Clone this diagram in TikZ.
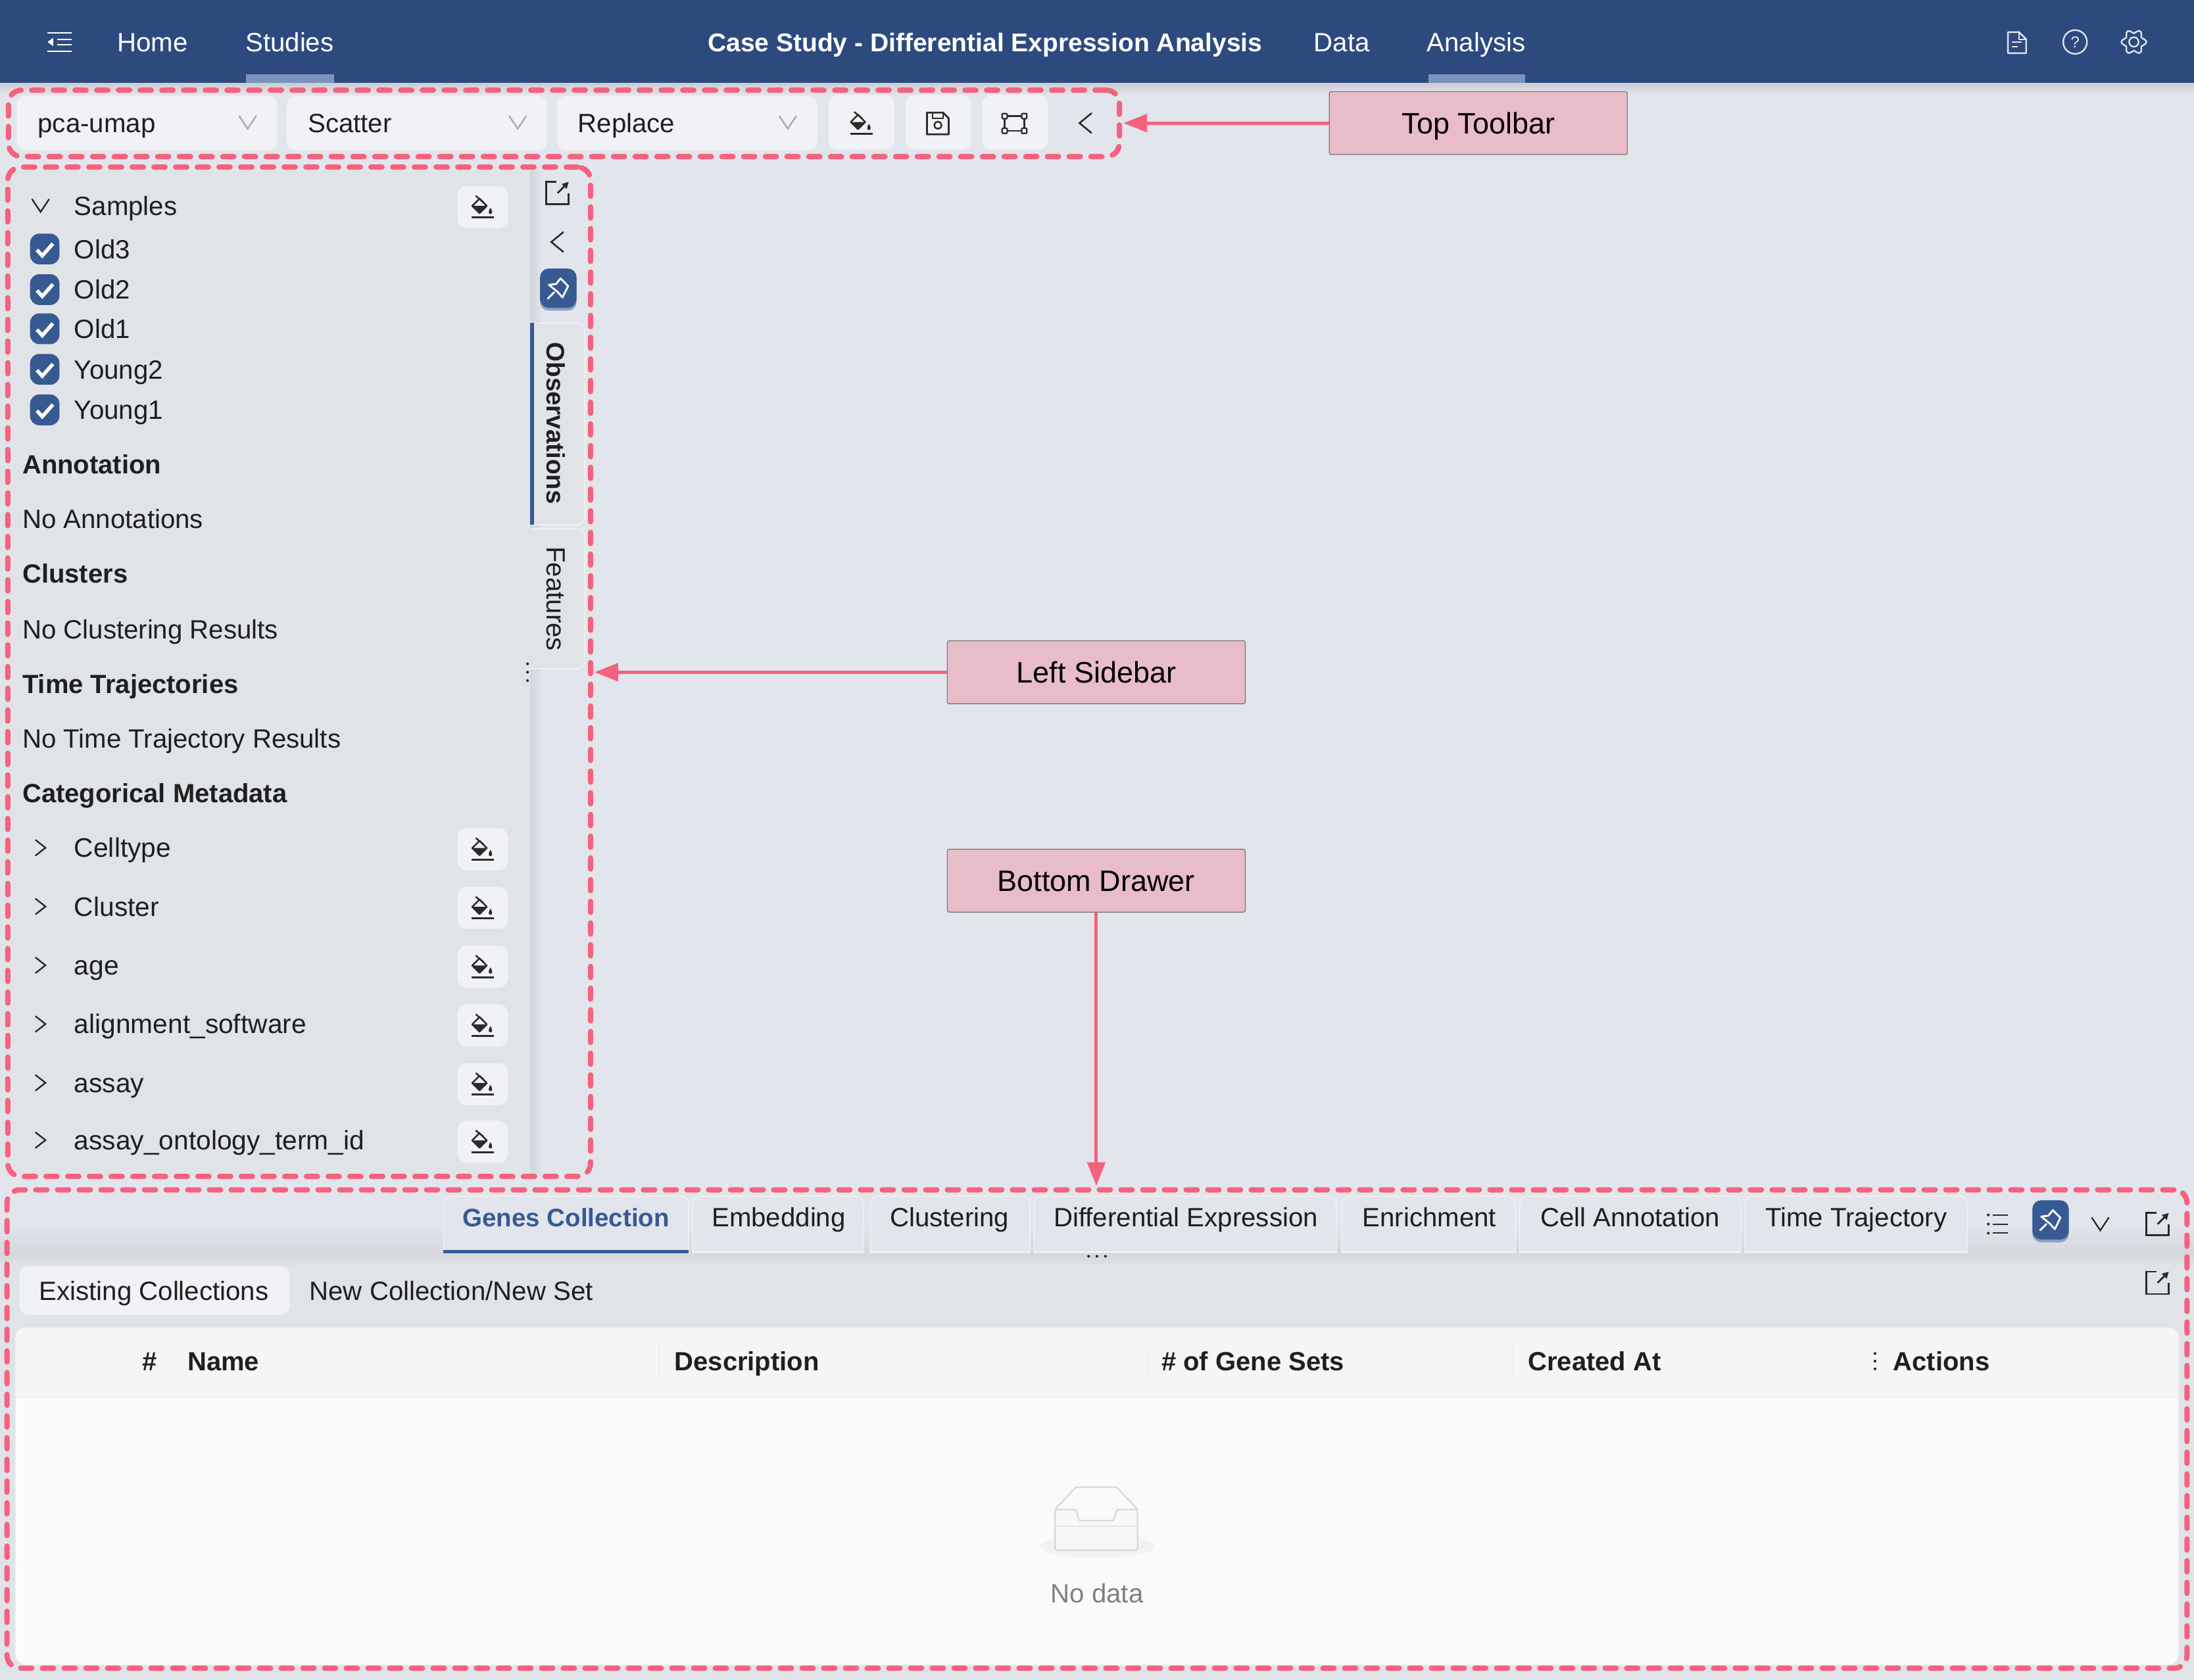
\documentclass[tikz,border=0pt]{standalone}
\usepackage{fontspec}
\setmainfont{Liberation Sans}
\usetikzlibrary{arrows.meta, calc}

\definecolor{headblue}{HTML}{2D4A7F}
\definecolor{barblue}{HTML}{7893BE}
\definecolor{pinblue}{HTML}{375A93}
\definecolor{pagegrey}{HTML}{E2E5EC}
\definecolor{panelgrey}{HTML}{E0E3E8}
\definecolor{boxgrey}{HTML}{F0F2F5}
\definecolor{bodygrey}{HTML}{F9FAFC}
\definecolor{framepink}{HTML}{F4627F}
\definecolor{labelpink}{HTML}{E8BCC8}
\definecolor{iconline}{HTML}{2B2B2B}

\tikzset{
	uitext/.style = {inner sep = 0pt, text height = 29pt, text depth = 0pt, font = \fontsize{40.2}{48}\selectfont, text = black!88},
	boldtext/.style = {uitext, font = \fontsize{40}{48}\selectfont\bfseries},
	headtext/.style = {uitext, text = white},
	dropbox/.style = {draw = black!6, fill = boxgrey, rounded corners = 14pt},
	framebox/.style = {draw = framepink, line width = 8pt, rounded corners = 20pt, dash pattern = on 17pt off 16pt, line cap = round, inner sep = 0pt, outer sep = 0pt},
	calllabel/.style = {draw = black!55, line width = 1.2pt, fill = labelpink, rounded corners = 3pt, minimum width = 213*2.1276pt, minimum height = 45*2.1276pt, inner sep = 0pt, text height = 32pt, text depth = 0pt, font = \fontsize{45}{52}\selectfont, text = black},
	callarrow/.style = {draw = framepink, line width = 5pt, -{Triangle[length = 36pt, width = 27pt]}, shorten > = 6pt},
	pics/bucket/.style = {code = {
		\draw [line width = 2.5pt, iconline, line join = round] (-7.5,-0.8) -- (-2.3,4.4) -- (2.9,-0.8) -- (-2.3,-6) -- cycle;
		\fill [iconline] (-7.5,-0.8) -- (-2.3,4.4) -- (2.9,-0.8) -- cycle;
		\draw [line width = 2.5pt, iconline] (-5,-8) -- (0.5,-3.5);
		\fill [iconline] (5.5,0.5) .. controls (4,2.5) and (3.8,5) .. (5.5,5) .. controls (7.2,5) and (7,2.5) .. (5.5,0.5) -- cycle;
		\draw [line width = 3pt, iconline] (-8,7.5) -- (8,7.5);
	}},
	pics/pinhead/.style = {code = {
		\draw [white, line width = 2.8pt, line join = round, line cap = round] (1.6,-7) -- (7,-1.5) -- (3,6.6) -- (-0.8,2.4) -- (-6.7,-2.4) -- (-1.6,-3) -- cycle;
		\draw [white, line width = 2.8pt, line cap = round] (-3,3) -- (-7.4,7.4);
	}},
	pics/openbox/.style = {code = {
		\draw [iconline, line width = 2.8pt] (-1,-8) -- (-8,-8) -- (-8,8) -- (8,8) -- (8,0);
		\draw [iconline, line width = 2.8pt, -{Triangle[length = 10pt, width = 10pt]}] (0,0) -- (8,-8);
	}},
	pics/chevleft/.style = {code = {
		\draw [iconline, line width = 2.6pt, line cap = round] (4,-7) -- (-4.5,0) -- (4,7);
	}},
	pics/chevright/.style = {code = {
		\draw [iconline, line width = 2.4pt, line cap = round] (-3.5,-5.5) -- (3.5,0) -- (-3.5,5.5);
	}},
	pics/chevdown/.style = {code = {
		\draw [line width = 2.4pt, line cap = round] (-6,-4.5) -- (0,4.5) -- (6,-4.5);
	}},
}

\newcommand{\pinbutton}[1]{
	\fill [pinblue!50!panelgrey, rounded corners = 13pt] ($ (#1) + (-13,-13) $) rectangle ($ (#1) + (13,16) $);
	\fill [pinblue, rounded corners = 13pt] ($ (#1) + (-13,-14) $) rectangle ($ (#1) + (13,14) $);
	\pic at (#1) {pinhead};
}

\begin{document}
\begin{tikzpicture}[x = 2.1276pt, y = -2.1276pt]
	\useasboundingbox (0,0) rectangle (1568,1200.9);
	
	\fill [pagegrey] (0,0) rectangle (1568,1200.9);
	
	% header
	\begin{scope}
		\shade [top color = black!11!pagegrey, bottom color = pagegrey] (0,59) rectangle (1568,68);
		\fill [headblue] (0,0) rectangle (1568,59);
		\fill [barblue] (176,53) rectangle (239,59);
		\fill [barblue] (1021,53) rectangle (1090,59);
		
		\draw [white, line width = 2pt] (34,23.5) -- (51,23.5) (41,28) -- (51,28) (41,32) -- (51,32) (34,36.5) -- (51,36.5);
		\fill [white] (34,30) -- (38,27) -- (38,33) -- cycle;
		
		\node (home) [headtext] at (109,30) {Home};
		\node (studies) [headtext] at (207,30) {Studies};
		\node (casetitle) [headtext, font = \fontsize{39}{48}\selectfont\bfseries] at (704,30) {Case Study - Differential Expression Analysis};
		\node (data) [headtext] at (959,30) {Data};
		\node (analysis) [headtext] at (1055,30) {Analysis};
		
		\draw [white!85!headblue, line width = 2.4pt, line join = round] (1435,23) -- (1443,23) -- (1448,28) -- (1448,38) -- (1435,38) -- cycle;
		\draw [white!85!headblue, line width = 2pt] (1443,23) -- (1443,28) -- (1448,28) (1438,30) -- (1445,30) (1438,33.5) -- (1442,33.5);
		\node (helpmark) [inner sep = 0pt, draw = white!85!headblue, line width = 2.4pt, circle, minimum size = 17*2.1276pt, text = white!85!headblue, font = \fontsize{24}{24}\selectfont] at (1483,30) {?};
		\draw [white!85!headblue, line width = 2.4pt] plot [smooth cycle, samples = 48, domain = 0:352.5] ({1525+(7.6+1.3*cos(6*\x))*cos(\x)},{30+(7.6+1.3*cos(6*\x))*sin(\x)});
		\draw [white!85!headblue, line width = 2.4pt] (1525,30) circle (3.4);
	\end{scope}
	
	% toolbar
	\begin{scope}
		\foreach \i/\xa/\xb/\t in {1/12/198/pca-umap, 2/205/391/Scatter, 3/398/584/Replace}{
			\draw [dropbox] (\xa,68.5) rectangle (\xb,107.5);
			\node (drop\i) [uitext, anchor = west] at (\xa+15,88) {\t};
			\pic [draw = black!33] at (\xb-21,87.5) {chevdown};
		}
		\foreach \xa in {592,647,702}{
			\draw [dropbox] (\xa,68) rectangle (\xa+47,107);
		}
		\pic at (615.5,88) {bucket};
		
		\draw [iconline, line width = 2.8pt, line join = round] (662.5,80.5) -- (674,80.5) -- (678,84.5) -- (678,96) -- (662.5,96) -- cycle;
		\draw [iconline, line width = 2.4pt] (666.5,80.5) -- (666.5,84.5) -- (674,84.5) -- (674,81);
		\draw [iconline, line width = 2.4pt] (670.3,89.5) circle (2.6);
		
		\draw [iconline, line width = 2.6pt] (718,83) rectangle (732,93.5);
		\foreach \a/\b in {718/83, 732/83, 718/93.5, 732/93.5}{
			\draw [iconline, line width = 2.2pt, fill = boxgrey, rounded corners = 1pt] (\a-1.8,\b-1.8) rectangle (\a+1.8,\b+1.8);
		}
		\pic at (776,88) {chevleft};
	\end{scope}
	
	% left sidebar
	\begin{scope}
		\shade [left color = black!7!pagegrey, right color = pagegrey] (379,122) rectangle (388,841);
		\fill [panelgrey] (0,122) rectangle (379,841);
		
		\pic [draw = iconline] at (29,147) {chevdown};
		\node (samples) [uitext, anchor = west] at (53,147) {Samples};
		
		\foreach \y/\t in {178/Old3, 207/Old2, 235/Old1, 264/Young2, 293/Young1}{
			\fill [pinblue, rounded corners = 14pt] (21.5,\y-11) rectangle (42.5,\y+11);
			\draw [white, line width = 5.5pt] (26.4,\y+0.6) -- (30.2,\y+4.8) -- (37.8,\y-3.8);
			\node (sample\t) [uitext, anchor = west] at (53,\y) {\t};
		}
		
		\foreach \y/\t in {332/Annotation, 410/Clusters, 489/Time Trajectories, 567/Categorical Metadata}{
			\node (title\y) [boldtext, anchor = west] at (16,\y) {\t};
		}
		\foreach \y/\t in {371/No Annotations, 450/No Clustering Results, 528/No Time Trajectory Results}{
			\node (empty\y) [uitext, anchor = west] at (16,\y) {\t};
		}
		
		\foreach \y/\t in {606/Celltype, 648/Cluster, 690/age, 732/alignment\_software, 774/assay, 815/assay\_ontology\_term\_id}{
			\pic at (29,\y) {chevright};
			\node (meta\y) [uitext, anchor = west, font = \fontsize{40.7}{48}\selectfont] at (53,\y) {\t};
		}
		\foreach \y in {148,607,649,691,733,775,816}{
			\draw [dropbox] (327,\y-15) rectangle (363,\y+15);
			\pic at (345,\y) {bucket};
		}
		\foreach \y in {474.5,480.5,486.5}{
			\fill [iconline] (377,\y) circle (1);
		}
		
		\pic at (398.5,138) {openbox};
		\pic at (398.5,173) {chevleft};
		\coordinate (sidepin) at (399,206);
		\pinbutton{sidepin}
		
		\draw [draw = white!60!panelgrey, line width = 1.5pt, fill = panelgrey, rounded corners = 12pt] (379,231) -- (418,231) -- (418,375) -- (379,375);
		\fill [pinblue] (379,231) rectangle (381.5,375);
		\node (obstab) [boldtext, rotate = -90, font = \fontsize{38.5}{48}\selectfont\bfseries] at (397.5,302.5) {Observations};
		\draw [draw = white!60!panelgrey, line width = 1.5pt, fill = panelgrey, rounded corners = 12pt] (379,378) -- (418,378) -- (418,478) -- (379,478);
		\node (featuretab) [uitext, rotate = -90] at (397.5,428) {Features};
	\end{scope}
	
	% bottom drawer
	\begin{scope}
		\shade [top color = pagegrey, bottom color = black!6!pagegrey] (0,875) rectangle (1568,896);
		\fill [panelgrey] (0,896) rectangle (1568,1200.9);
		\shade [top color = black!5!panelgrey, bottom color = panelgrey] (0,896) rectangle (1568,906);
		
		\foreach \i/\xa/\xb in {1/317/492, 2/495/617, 3/622/736, 4/739/955, 5/959/1083, 6/1086/1244, 7/1247/1406}{
			\draw [draw = white!50!pagegrey, line width = 1.5pt, fill = pagegrey, rounded corners = 12pt] (\xa,896) -- (\xa,855) -- (\xb,855) -- (\xb,896);
			\draw [white!60!pagegrey, line width = 2pt] (\xa,895) -- (\xb,895);
		}
		\fill [pinblue] (317,893.5) rectangle (492,896);
		\node (tab1) [boldtext, text = pinblue, font = \fontsize{38.5}{48}\selectfont\bfseries] at (404.5,870) {Genes Collection};
		\foreach \i/\xm/\t in {2/556.5/Embedding, 3/678.5/Clustering, 4/847.5/Differential Expression, 5/1021.5/Enrichment, 6/1165/Cell Annotation, 7/1326.5/Time Trajectory}{
			\node (tab\i) [uitext] at (\xm,870) {\t};
		}
		\foreach \x in {778,784,790}{
			\fill [iconline] (\x,898) circle (1);
		}
		
		\foreach \y in {868.5,875,881.5}{
			\fill [iconline] (1421,\y) circle (1);
			\draw [iconline, line width = 2pt] (1424,\y) -- (1435,\y);
		}
		\coordinate (drawerpin) at (1465.5,872);
		\pinbutton{drawerpin}
		\pic [draw = iconline] at (1501,875) {chevdown};
		\pic at (1542,875) {openbox};
		\pic at (1542,917) {openbox};
		
		\fill [boxgrey, rounded corners = 14pt] (14,905) rectangle (207,940);
		\node (existing) [uitext] at (110,922.5) {Existing Collections};
		\node (newset) [uitext] at (322.5,922.5) {New Collection/New Set};
		
		\fill [bodygrey, rounded corners = 16pt] (11,949) rectangle (1557,1190);
		\begin{scope}
			\clip [rounded corners = 16pt] (11,949) rectangle (1557,1190);
			\fill [black!2!bodygrey] (11,949) rectangle (1557,999);
			\draw [black!6!bodygrey, line width = 1.5pt] (11,999) -- (1557,999);
		\end{scope}
		\foreach \x in {122,471,820,1081}{
			\draw [black!5!bodygrey, line width = 1.2pt] (\x,962) -- (\x,985);
		}
		\node (colnum) [boldtext] at (107,973) {\#};
		\foreach \x/\t in {134/Name, 482/Description, 830/\# of Gene Sets, 1092/Created At, 1353/Actions}{
			\node (col\x) [boldtext, anchor = west] at (\x,973) {\t};
		}
		\foreach \y in {967.5,973,978.5}{
			\fill [iconline] (1340,\y) circle (1);
		}
		
		\fill [black!5] (784,1105.5) circle [x radius = 41, y radius = 8];
		\draw [black!17, line width = 2pt, fill = black!3, rounded corners = 3pt] (754,1079) -- (769,1079) -- (771,1087) -- (796,1087) -- (798,1079) -- (813,1079) -- (813,1108) -- (754,1108) -- cycle;
		\draw [black!17, line width = 2pt, rounded corners = 2pt] (754,1079) -- (769,1063) -- (798,1063) -- (813,1079);
		\draw [black!10, line width = 1.5pt] (754,1091) -- (813,1091);
		\node (nodata) [uitext, text = black!50] at (784,1139) {No data};
	\end{scope}
	
	% annotations
	\node (toolframe) [framebox, minimum width = 794*2.1276pt, minimum height = 47.5*2.1276pt] at (403,88.2) {};
	\node (sideframe) [framebox, minimum width = 416.5*2.1276pt, minimum height = 721.5*2.1276pt] at (213.8,480.2) {};
	\node (drawerframe) [framebox, minimum width = 1558*2.1276pt, minimum height = 342*2.1276pt] at (784,1021.5) {};
	
	\node (toplabel) [calllabel] at (1056.5,88) {Top Toolbar};
	\node (leftlabel) [calllabel] at (783.5,480.5) {Left Sidebar};
	\node (bottomlabel) [calllabel] at (783.5,629.5) {Bottom Drawer};
	
	\draw [callarrow] (toplabel) -- (toplabel -| toolframe.east);
	\draw [callarrow] (leftlabel) -- (leftlabel -| sideframe.east);
	\draw [callarrow] (bottomlabel) -- (bottomlabel |- drawerframe.north);
\end{tikzpicture}
\end{document}
